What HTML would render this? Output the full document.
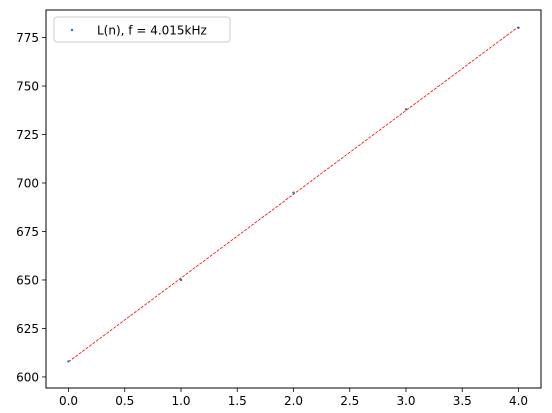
<!DOCTYPE html>
<html><head><meta charset="utf-8"><style>body{margin:0;background:#fff}svg{display:block;font-family:"DejaVu Sans","Liberation Sans",sans-serif}</style></head>
<body>
<svg id="chart" width="552" height="413"></svg>
<script>
const xValues=[0,1,2,3,4];
const yValues=[608,650,695,738,780];
const xTicks=[0,0.5,1,1.5,2,2.5,3,3.5,4];
const yTicks=[600,625,650,675,700,725,750,775];
const legendLabel="L(n), f = 4.015kHz";
const L=46,R=541,T=10,B=388;
const xmin=-0.2,xmax=4.2,ymin=594.3,ymax=789.2;
const sx=v=>L+(v-xmin)/(xmax-xmin)*(R-L);
const sy=v=>B-(v-ymin)/(ymax-ymin)*(B-T);
const svg=document.getElementById('chart');const NS='http://www.w3.org/2000/svg';
function mk(t,a,p){const e=document.createElementNS(NS,t);for(const k in a)e.setAttribute(k,a[k]);(p||svg).appendChild(e);return e;}
// fit
const n=xValues.length;const mx=xValues.reduce((a,b)=>a+b)/n,my=yValues.reduce((a,b)=>a+b)/n;
let num=0,den=0;for(let i=0;i<n;i++){num+=(xValues[i]-mx)*(yValues[i]-my);den+=(xValues[i]-mx)**2;}
const m=num/den,b0=my-m*mx;
const x0=xValues[0],x1=xValues[n-1];
const fit=mk('line',{x1:sx(x0),y1:sy(m*x0+b0),x2:sx(x1),y2:sy(m*x1+b0),stroke:'#ff0000','stroke-width':0.8,'stroke-dasharray':'3,1.3'});


xValues.forEach((x,i)=>{const c=mk('circle',{cx:sx(x),cy:sy(yValues[i]),r:1.2,fill:'#1f77b4'});

});
const fr=mk('rect',{x:L,y:T,width:R-L,height:B-T,fill:'none',stroke:'#000','stroke-width':1});


xTicks.forEach(t=>{mk('line',{x1:sx(t),x2:sx(t),y1:B,y2:B+4,stroke:'#000','stroke-width':0.8});
const tx=mk('text',{x:sx(t),y:B+17,'text-anchor':'middle','font-size':'12'});tx.textContent=t.toFixed(1);

});
yTicks.forEach(t=>{mk('line',{x1:L-4,x2:L,y1:sy(t),y2:sy(t),stroke:'#000','stroke-width':0.8});
const tx=mk('text',{x:L-7,y:sy(t)+4.5,'text-anchor':'end','font-size':'12'});tx.textContent=t;

});
const lg=mk('g',{});


mk('rect',{x:54,y:17,width:176,height:25,rx:3,fill:'#fff',stroke:'#ccc','stroke-width':1},lg);
mk('circle',{cx:72,cy:30,r:1.2,fill:'#1f77b4'},lg);
const lt=mk('text',{x:97,y:34.5,'font-size':'12'},lg);lt.textContent=legendLabel;
</script>
</body></html>
